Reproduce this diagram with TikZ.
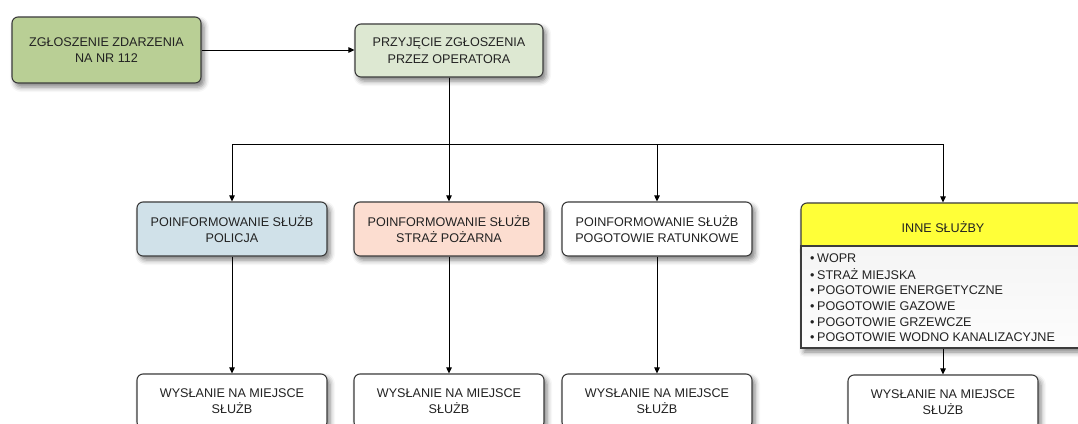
\documentclass[tikz,border=0pt]{standalone}
\usepackage{fontspec}
\setmainfont{Liberation Sans}
\usetikzlibrary{arrows.meta,shadows.blur}

\definecolor{boxline}{HTML}{3C3C3C}
\definecolor{txt}{HTML}{222222}
\definecolor{cgreen}{HTML}{B9CF95}
\definecolor{clight}{HTML}{DDE8D2}
\definecolor{cblue}{HTML}{D0E1E9}
\definecolor{cpink}{HTML}{FCDDD0}
\definecolor{cyellow}{HTML}{FFFF38}

\tikzset{
  shade box/.style={blur shadow={shadow xshift=3pt,shadow yshift=-4pt,
      shadow blur radius=5pt,shadow opacity=50}},
  box/.style={draw=boxline, line width=1.1pt, rounded corners=6pt,
    align=center, text=txt, inner sep=0pt,
    font=\fontsize{12.6}{16.5}\selectfont, shade box},
  stagebox/.style={box, minimum width=190pt, minimum height=54pt},
  conn/.style={draw=black, line width=0.9pt,
    -{Triangle[length=6pt,width=5.5pt]}},
}

\begin{document}
\begin{tikzpicture}[x=1pt,y=-1pt]
\useasboundingbox (0,0) rectangle (1078,423);

% top row
\node[box, fill=cgreen, minimum width=189pt, minimum height=66pt]
  (call) at (106.5,50) {ZGŁOSZENIE ZDARZENIA\\NA NR 112};
\node[box, fill=clight, minimum width=188pt, minimum height=53pt]
  (oper) at (449,50.5) {PRZYJĘCIE ZGŁOSZENIA\\PRZEZ OPERATORA};

% services
\node[stagebox, fill=cblue] (pol) at (232,229) {POINFORMOWANIE SŁUŻB\\POLICJA};
\node[stagebox, fill=cpink] (fire) at (449,229) {POINFORMOWANIE SŁUŻB\\STRAŻ POŻARNA};
\node[stagebox, fill=white] (amb) at (657,229) {POINFORMOWANIE SŁUŻB\\POGOTOWIE RATUNKOWE};

% other services: header plus list
\node[box, fill=cyellow, minimum width=284pt, minimum height=49pt]
  (other) at (943,227.5) {INNE SŁUŻBY};
\node[draw=boxline, line width=1.1pt, minimum width=284pt, minimum height=102pt,
  inner sep=0pt, top color=gray!8, bottom color=gray!2, shade box]
  (otherlist) at (943,297) {};
\node[anchor=north west, align=left, inner sep=0pt, text=txt,
  font=\fontsize{12.6}{15.6}\selectfont]
  (otheritems) at (810,251.5)
  {\strut\textbullet\hspace{2.5pt}WOPR\\
   \textbullet\hspace{2.5pt}STRAŻ MIEJSKA\\
   \textbullet\hspace{2.5pt}POGOTOWIE ENERGETYCZNE\\
   \textbullet\hspace{2.5pt}POGOTOWIE GAZOWE\\
   \textbullet\hspace{2.5pt}POGOTOWIE GRZEWCZE\\
   \textbullet\hspace{2.5pt}POGOTOWIE WODNO KANALIZACYJNE};

% dispatch
\node[stagebox, fill=white] (d1) at (232,401) {WYSŁANIE NA MIEJSCE\\SŁUŻB};
\node[stagebox, fill=white] (d2) at (449,401) {WYSŁANIE NA MIEJSCE\\SŁUŻB};
\node[stagebox, fill=white] (d3) at (657,401) {WYSŁANIE NA MIEJSCE\\SŁUŻB};
\node[stagebox, fill=white] (d4) at (943,402) {WYSŁANIE NA MIEJSCE\\SŁUŻB};

% connectors
\coordinate (bus) at (449,144);
\draw[conn] (call.east) -- (call.east -| oper.west);
\draw[conn] (oper.south) -- (bus) -| (pol.north);
\draw[conn] (oper.south) -- (fire.north);
\draw[conn] (oper.south) -- (bus) -| (amb.north);
\draw[conn] (oper.south) -- (bus) -| (other.north);
\draw[conn] (pol.south) -- (d1.north);
\draw[conn] (fire.south) -- (d2.north);
\draw[conn] (amb.south) -- (d3.north);
\draw[conn] (otherlist.south) -- (d4.north);
\end{tikzpicture}
\end{document}
